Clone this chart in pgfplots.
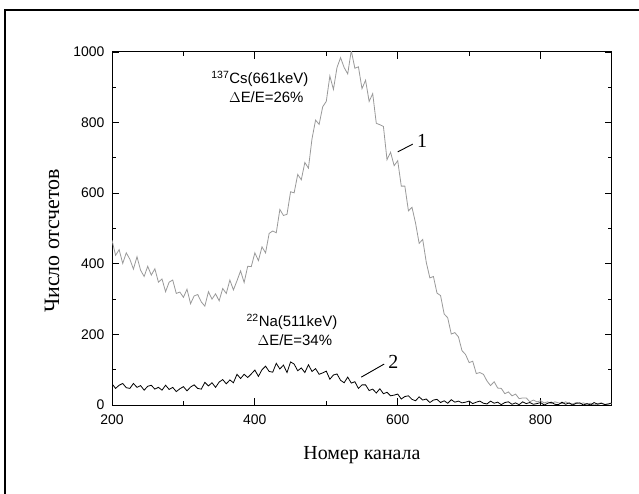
\documentclass[border=0pt]{standalone}
\usepackage{pgfplots}
\pgfplotsset{compat=1.18}
\usepackage{fontspec}
\setmainfont{Liberation Serif}
\newfontfamily\arial{Liberation Sans}
\begin{document}
\begin{tikzpicture}
\useasboundingbox (0,0) rectangle (639bp,494bp);
\draw[line width=1.2bp] (5bp,0) -- (5bp,484bp) -- (639bp,484bp);
\begin{axis}[
  at={(112bp,89bp)}, anchor=south west,
  scale only axis, width=500bp, height=353bp,
  xmin=200, xmax=900, ymin=0, ymax=1000,
  xtick={200,400,600,800}, ytick={0,200,400,600,800,1000},
  minor xtick={300,500,700}, minor ytick={100,300,500,700,900},
  tick align=inside,
  major tick length=7bp, minor tick length=4bp,
  axis line style={line width=1bp},
  every tick/.style={line width=0.9bp, black},
  tick label style={font=\arial\fontsize{14}{16}\selectfont},
  /pgf/number format/assume math mode=true,
  /pgf/number format/1000 sep={},
  xticklabel style={yshift=-6bp},
  yticklabel style={xshift=-4bp},
  xlabel={Номер канала},
  ylabel={Число отсчетов},
  xlabel style={font=\fontsize{20}{22}\selectfont, at={(axis description cs:0.5,-0.142)}, anchor=center},
  ylabel style={font=\fontsize{22}{24}\selectfont, at={(axis description cs:-0.12,0.465)}, anchor=center},
  clip=true,
]
% curve 1: 137Cs
\addplot[color=black!40, line width=0.8bp] coordinates {
(200,467)(205,424)(210,440)(215,401)(220,431)(225,413)(230,385)(235,420)(240,382)(245,364)
(250,393)(255,368)(260,386)(265,348)(270,357)(275,321)(280,348)(285,354)(290,316)(295,320)
(300,305)(305,328)(310,287)(315,309)(320,313)(325,292)(330,280)(335,321)(340,300)(345,315)
(350,295)(355,330)(360,316)(365,354)(370,326)(375,352)(380,380)(385,347)(390,393)(395,392)
(400,431)(405,409)(410,448)(415,431)(420,486)(425,493)(430,488)(435,554)(440,537)(445,540)
(450,604)(455,601)(460,653)(465,638)(470,687)(475,671)(480,754)(485,807)(490,795)(495,845)
(500,860)(505,932)(510,894)(515,956)(520,984)(525,956)(530,938)(535,1004)(540,954)(545,958)
(550,896)(555,920)(560,860)(565,882)(570,798)(575,794)(580,789)(585,695)(590,716)(595,678)
(600,692)(605,620)(610,620)(615,550)(620,560)(625,515)(630,458)(635,469)(640,404)(645,360)
(650,364)(655,317)(660,310)(665,258)(670,247)(675,201)(680,205)(685,193)(690,154)(695,143)
(700,120)(705,124)(710,89)(715,92)(720,87)(725,68)(730,55)(735,66)(740,48)(745,47)
(750,32)(755,37)(760,26)(765,31)(770,18)(775,20)(780,20)(785,9)(790,14)(795,9)
(800,12)(805,6)(810,9)(815,4)(820,9)(825,6)(830,4)(835,9)(840,4)(845,3)
(850,7)(855,3)(860,6)(865,2)(870,5)(875,0)(880,4)(885,6)(890,2)(895,3)(900,4)
};
% curve 2: 22Na
\addplot[color=black, line width=0.8bp] coordinates {
(200,60)(205,47)(210,56)(215,61)(220,49)(225,47)(230,61)(235,50)(240,55)(245,42)
(250,53)(255,56)(260,45)(265,50)(270,42)(275,56)(280,44)(285,50)(290,38)(295,46)
(300,52)(305,40)(310,51)(315,57)(320,47)(325,45)(330,64)(335,54)(340,63)(345,50)
(350,65)(355,72)(360,60)(365,71)(370,63)(375,87)(380,75)(385,87)(390,78)(395,88)
(400,99)(405,81)(410,100)(415,110)(420,95)(425,93)(430,118)(435,102)(440,113)(445,92)
(450,122)(455,116)(460,97)(465,105)(470,92)(475,114)(480,95)(485,103)(490,87)(495,91)
(500,96)(505,73)(510,85)(515,88)(520,70)(525,63)(530,79)(535,62)(540,66)(545,47)
(550,57)(555,57)(560,41)(565,45)(570,34)(575,46)(580,32)(585,36)(590,26)(595,28)
(600,31)(605,17)(610,24)(615,26)(620,16)(625,12)(630,23)(635,14)(640,17)(645,7)
(650,14)(655,16)(660,7)(665,12)(670,5)(675,15)(680,8)(685,11)(690,6)(695,8)
(700,11)(705,4)(710,8)(715,11)(720,5)(725,3)(730,11)(735,5)(740,8)(745,1)
(750,7)(755,9)(760,2)(765,6)(770,1)(775,9)(780,4)(785,7)(790,2)(795,4)
(800,7)(805,0)(810,5)(815,8)(820,2)(825,1)(830,8)(835,2)(840,6)(845,0)
(850,5)(855,6)(860,0)(865,4)(870,0)(875,7)(880,2)(885,5)(890,1)(895,3)(900,6)
};
% annotations
\node[font=\arial\fontsize{15}{17}\selectfont, anchor=center] at (axis cs:407,923) {\textsuperscript{137}Cs(661keV)};
\node[font=\arial\fontsize{15}{17}\selectfont, anchor=center] at (axis cs:416,872) {$\Delta$E/E=26\%};
\node[font=\arial\fontsize{15}{17}\selectfont, anchor=center] at (axis cs:452,235) {\textsuperscript{22}Na(511keV)};
\node[font=\arial\fontsize{15}{17}\selectfont, anchor=center] at (axis cs:456,184) {$\Delta$E/E=34\%};
\draw[line width=0.9bp] (axis cs:600,717) -- (axis cs:621,739);
\node[font=\fontsize{20}{22}\selectfont, anchor=center] at (axis cs:634,748) {1};
\draw[line width=0.9bp] (axis cs:549,79) -- (axis cs:581,116);
\node[font=\fontsize{20}{22}\selectfont, anchor=center] at (axis cs:594,122) {2};
\end{axis}
\end{tikzpicture}
\end{document}
